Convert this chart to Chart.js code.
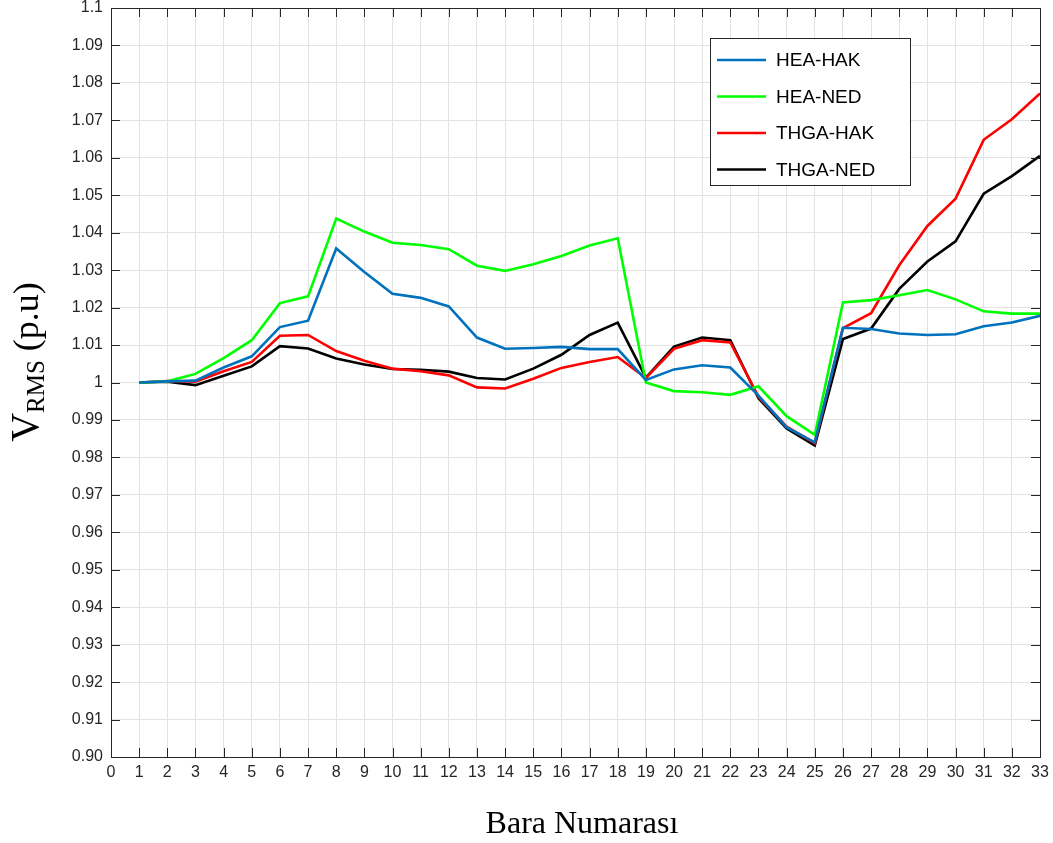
<!DOCTYPE html>
<html>
<head>
<meta charset="utf-8">
<script src="https://cdn.jsdelivr.net/npm/chart.js@4.4.0/dist/chart.umd.min.js"></script>
<style>
  html, body { margin: 0; padding: 0; background: #fff; }
  #wrap { width: 1053px; height: 843px; }
</style>
</head>
<body>
<div id="wrap"><canvas id="chart" width="1053" height="843"></canvas></div>
<script>
// ===== DATA =====
const buses = [1,2,3,4,5,6,7,8,9,10,11,12,13,14,15,16,17,18,19,20,21,22,23,24,25,26,27,28,29,30,31,32,33];

const heaHak = [1.0000,1.0003,1.0005,1.0040,1.0070,1.0148,1.0165,1.0358,1.0295,1.0237,1.0226,1.0203,1.0120,1.0090,1.0092,1.0095,1.0089,1.0089,
  1.0007,1.0035,1.0046,1.0040,0.9965,0.9880,0.9840,1.0146,1.0143,1.0131,1.0127,1.0129,1.0150,1.0160,1.0178];

const heaNed = [1.0000,1.0003,1.0023,1.0065,1.0113,1.0212,1.0230,1.0438,1.0403,1.0373,1.0367,1.0356,1.0312,1.0298,1.0316,1.0338,1.0366,1.0385,
  1.0000,0.9977,0.9974,0.9967,0.9990,0.9910,0.9860,1.0214,1.0220,1.0233,1.0247,1.0222,1.0190,1.0184,1.0184];

const thgaHak = [1.0000,1.0004,1.0002,1.0030,1.0055,1.0125,1.0127,1.0084,1.0058,1.0037,1.0030,1.0019,0.9987,0.9984,1.0010,1.0039,1.0055,1.0068,
  1.0012,1.0090,1.0113,1.0107,0.9962,0.9882,0.9838,1.0145,1.0185,1.0313,1.0418,1.0491,1.0648,1.0703,1.0772];

const thgaNed = [1.0000,1.0002,0.9993,1.0018,1.0043,1.0097,1.0091,1.0064,1.0048,1.0036,1.0034,1.0029,1.0012,1.0008,1.0037,1.0074,1.0127,1.0160,
  1.0013,1.0096,1.0120,1.0113,0.9958,0.9877,0.9832,1.0116,1.0144,1.0250,1.0323,1.0377,1.0504,1.0551,1.0605];

const seriesNames = ['HEA-HAK', 'HEA-NED', 'THGA-HAK', 'THGA-NED'];
const seriesColors = ['#0072BD', '#00FF00', '#FF0000', '#000000'];

// ===== LAYOUT =====
const AREA = { left: 111, right: 1040, top: 8, bottom: 757 };
const W = 1053, H = 843;

const toPoints = vals => vals.map((v, i) => ({ x: buses[i], y: v }));

const datasets = [heaHak, heaNed, thgaHak, thgaNed].map((vals, i) => ({
  label: seriesNames[i],
  data: toPoints(vals),
  borderColor: seriesColors[i],
  backgroundColor: seriesColors[i],
  borderWidth: 2.6,
  pointRadius: 0,
  tension: 0,
  fill: false,
}));

// frame, legend box and axis titles
const decorations = {
  id: 'decorations',
  afterDraw(chart) {
    const ctx = chart.ctx;
    const a = chart.chartArea;
    ctx.save();
    // box around the plot
    ctx.strokeStyle = '#262626';
    ctx.lineWidth = 1;
    ctx.strokeRect(a.left + 0.5, a.top + 0.5, a.right - a.left, a.bottom - a.top);

    // inward ticks (matlab style)
    const xs = chart.scales.x, ys = chart.scales.y;
    ctx.beginPath();
    for (let i = 0; i <= 33; i++) {
      const px = Math.round(xs.getPixelForValue(i)) + 0.5;
      ctx.moveTo(px, a.bottom); ctx.lineTo(px, a.bottom - 9);
      ctx.moveTo(px, a.top); ctx.lineTo(px, a.top + 9);
    }
    for (let i = 0; i <= 20; i++) {
      const py = Math.round(ys.getPixelForValue(0.9 + i * 0.01)) + 0.5;
      ctx.moveTo(a.left, py); ctx.lineTo(a.left + 9, py);
      ctx.moveTo(a.right, py); ctx.lineTo(a.right - 9, py);
    }
    ctx.stroke();

    // legend
    const lx = 710, ly = 38, lw = 200, lh = 147;
    ctx.fillStyle = '#fff';
    ctx.fillRect(lx, ly, lw, lh);
    ctx.strokeStyle = '#262626';
    ctx.strokeRect(lx + 0.5, ly + 0.5, lw, lh);
    ctx.font = '19px "Liberation Sans", Arial, sans-serif';
    ctx.textBaseline = 'middle';
    seriesNames.forEach((name, i) => {
      const y = ly + 22 + i * 36.5;
      ctx.strokeStyle = seriesColors[i];
      ctx.lineWidth = 2.6;
      ctx.beginPath();
      ctx.moveTo(717, y); ctx.lineTo(766, y);
      ctx.stroke();
      ctx.fillStyle = '#000';
      ctx.fillText(name, 776, y + 1);
    });

    // x title
    ctx.fillStyle = '#000';
    ctx.font = '32px "Liberation Serif", "Times New Roman", serif';
    ctx.textAlign = 'center';
    ctx.textBaseline = 'alphabetic';
    ctx.fillText('Bara Numarası', 582, 833);

    // y title with subscript
    ctx.translate(38, 362);
    ctx.rotate(-Math.PI / 2);
    ctx.textAlign = 'left';
    const big = '40px "Liberation Serif", "Times New Roman", serif';
    const sub = '25px "Liberation Serif", "Times New Roman", serif';
    const par = '36px "Liberation Serif", "Times New Roman", serif';
    ctx.font = big; const wV = ctx.measureText('V').width;
    ctx.font = sub; const wS = ctx.measureText('RMS').width;
    ctx.font = par; const wP = ctx.measureText(' (p.u)').width;
    let x0 = -(wV + wS + wP) / 2;
    ctx.font = big; ctx.fillText('V', x0, 0);
    ctx.font = sub; ctx.fillText('RMS', x0 + wV, 6);
    ctx.font = par; ctx.fillText(' (p.u)', x0 + wV + wS, 0);
    ctx.restore();
  }
};

new Chart(document.getElementById('chart'), {
  type: 'line',
  data: { datasets },
  options: {
    responsive: false,
    animation: false,
    layout: { padding: { top: AREA.top, right: W - AREA.right, left: 0, bottom: 0 } },
    plugins: { legend: { display: false }, tooltip: { enabled: false } },
    scales: {
      x: {
        type: 'linear',
        min: 0, max: 33,
        afterFit: s => { s.height = H - AREA.bottom; s.paddingLeft = 0; s.paddingRight = 0; },
        ticks: {
          stepSize: 1,
          color: '#262626',
          font: { family: '"Liberation Sans", Arial, sans-serif', size: 16 },
          padding: 6,
          maxRotation: 0,
          autoSkip: false,
        },
        grid: { color: '#e3e3e3', lineWidth: 1, tickLength: 0, drawTicks: false },
        border: { display: false },
      },
      y: {
        min: 0.9, max: 1.1,
        afterFit: s => { s.width = AREA.left; s.paddingTop = 0; s.paddingBottom = 0; },
        afterBuildTicks: s => {
          s.ticks = [];
          for (let i = 0; i <= 20; i++) s.ticks.push({ value: Math.round((0.9 + i * 0.01) * 100) / 100 });
        },
        ticks: {
          color: '#262626',
          font: { family: '"Liberation Sans", Arial, sans-serif', size: 16 },
          padding: 8,
          callback: v => {
            const r = Math.round(v * 100) / 100;
            if (r === 0.9) return '0.90';
            if (r === 1) return '1';
            if (r === 1.1) return '1.1';
            return r.toFixed(2);
          },
        },
        grid: { color: '#e3e3e3', lineWidth: 1, tickLength: 0, drawTicks: false },
        border: { display: false },
      },
    },
  },
  plugins: [decorations],
});
</script>
</body>
</html>
